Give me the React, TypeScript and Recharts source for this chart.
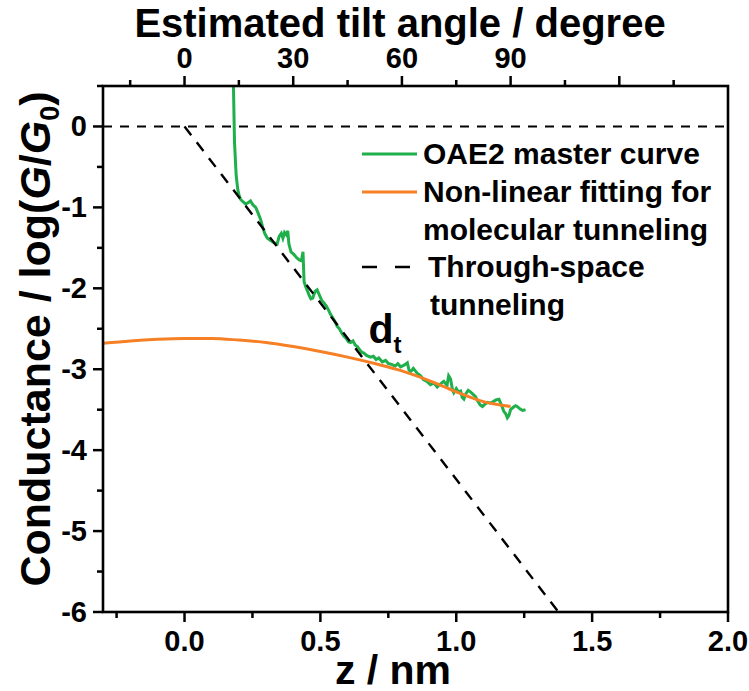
import { LineChart, Line, XAxis, YAxis, ReferenceDot, Legend } from 'recharts'

const FONT = 'Arial, "Liberation Sans", sans-serif'
const GREEN = '#1fb04c'
const ORANGE = '#f58025'

const W = 749
const H = 691
// room kept round the plot box for axes and titles
const PAD = { left: 103, top: 86, right: 21, bottom: 79 }

// OAE2 master curve, z (nm) against log(G/G0)
const masterZ = [
  0.18, 0.184, 0.19, 0.196, 0.2, 0.206, 0.215, 0.225, 0.235, 0.243, 0.252, 0.262, 0.272, 0.28, 0.288,
  0.295, 0.305, 0.317, 0.33, 0.341, 0.348, 0.356, 0.362, 0.368, 0.375, 0.38, 0.384, 0.392, 0.402, 0.412,
  0.422, 0.43, 0.436, 0.44, 0.446, 0.452, 0.458, 0.465, 0.472, 0.48, 0.488, 0.496, 0.505, 0.513, 0.522,
  0.53, 0.537, 0.545, 0.555, 0.562, 0.57, 0.578, 0.586, 0.595, 0.603, 0.611, 0.62, 0.628, 0.636, 0.645,
  0.652, 0.66, 0.67, 0.684, 0.695, 0.705, 0.715, 0.728, 0.74, 0.75, 0.762, 0.775, 0.785, 0.795, 0.808,
  0.82, 0.826, 0.832, 0.842, 0.856, 0.868, 0.88, 0.892, 0.905, 0.918, 0.93, 0.942, 0.954, 0.966, 0.972,
  0.979, 0.986, 0.991, 1.0, 1.008, 1.016, 1.022, 1.028, 1.036, 1.044, 1.052, 1.062, 1.071, 1.08, 1.088,
  1.096, 1.106, 1.116, 1.126, 1.136, 1.146, 1.157, 1.166, 1.175, 1.182, 1.188, 1.194, 1.2, 1.21, 1.218,
  1.224, 1.234, 1.244, 1.255,
]
const masterG = [
  0.5, -0.2, -0.6, -0.78, -0.84, -0.9, -0.93, -0.96, -0.94, -0.92, -0.97, -1.0, -1.08, -1.15, -1.25,
  -1.32, -1.38, -1.41, -1.44, -1.45, -1.36, -1.32, -1.38, -1.31, -1.34, -1.29, -1.45, -1.55, -1.58, -1.62,
  -1.65, -1.66, -1.55, -1.92, -1.98, -2.03, -2.08, -2.13, -2.12, -2.04, -2.02, -2.08, -2.15, -2.18, -2.22,
  -2.27, -2.32, -2.36, -2.42, -2.47, -2.5, -2.55, -2.59, -2.62, -2.66, -2.67, -2.65, -2.7, -2.72, -2.76,
  -2.79, -2.8, -2.83, -2.85, -2.84, -2.88, -2.86, -2.91, -2.89, -2.93, -2.94, -2.96, -2.93, -2.97, -2.95,
  -2.92, -3.01, -3.03, -2.99, -3.05, -3.08, -3.13, -3.15, -3.19, -3.17, -3.22, -3.18, -3.15, -3.2, -3.08,
  -3.12, -3.25, -3.29, -3.24, -3.28, -3.27, -3.35, -3.37, -3.3, -3.26, -3.28, -3.31, -3.34, -3.4, -3.44,
  -3.46, -3.43, -3.41, -3.42, -3.4, -3.38, -3.37, -3.44, -3.52, -3.55, -3.6, -3.57, -3.5, -3.47, -3.45,
  -3.46, -3.49, -3.51, -3.5,
]

// non-linear fit for molecular tunneling
const fitZ = [-0.3, -0.2, -0.1, 0, 0.1, 0.2, 0.3, 0.4, 0.5, 0.6, 0.7, 0.8, 0.9, 1.0, 1.1, 1.2]
const fitG = [-2.68, -2.65, -2.63, -2.62, -2.62, -2.64, -2.67, -2.72, -2.78, -2.85, -2.93, -3.02, -3.14, -3.28, -3.4, -3.46]

// through-space tunneling, straight from the origin to the bottom edge
const spaceZ = [0, 1.376]
const spaceG = [0, -6]

// zero-conductance guide, laid along the tilt-angle axis
const zeroTilt = [-22.5, 150]
const zeroG = [0, 0]

const zTicks = [-0.25, 0, 0.25, 0.5, 0.75, 1, 1.25, 1.5, 1.75, 2]
const tiltTicks = [-15, 0, 15, 30, 45, 60, 75, 90, 105, 120, 135]
const tiltLabelled = [0, 30, 60, 90]
const gTicks = [-6, -5.5, -5, -4.5, -4, -3.5, -3, -2.5, -2, -1.5, -1, -0.5, 0, 0.5]

const master = masterZ.map((z, i) => ({ z, g: masterG[i] }))
const fit = fitZ.map((z, i) => ({ z, g: fitG[i] }))
const space = spaceZ.map((z, i) => ({ z, g: spaceG[i] }))
const zero = zeroTilt.map((t, i) => ({ t, g: zeroG[i] }))

const isMajor = (v: number, step: number) => Math.abs(v / step - Math.round(v / step)) < 1e-6

const textStyle = { fontFamily: FONT, fontWeight: 'bold' as const, fill: '#000' }
const TICK_FONT = 29

const ZTick = ({ x, y, payload }: any) => {
  const major = isMajor(payload.value, 0.5)
  return (
    <g>
      <line x1={x} x2={x} y1={y} y2={y + (major ? 10 : 6)} stroke="#000" strokeWidth={2.5} />
      {major && (
        <text x={x} y={y + 39} textAnchor="middle" fontSize={TICK_FONT} {...textStyle}>
          {payload.value.toFixed(1)}
        </text>
      )}
    </g>
  )
}

const TiltTick = ({ x, y, payload }: any) => {
  const major = isMajor(payload.value, 30)
  return (
    <g>
      <line x1={x} x2={x} y1={y} y2={y - (major ? 10 : 6)} stroke="#000" strokeWidth={2.5} />
      {tiltLabelled.includes(payload.value) && (
        <text x={x} y={y - 18} textAnchor="middle" fontSize={TICK_FONT} {...textStyle}>
          {payload.value}
        </text>
      )}
    </g>
  )
}

const GTick = ({ x, y, payload }: any) => {
  const major = isMajor(payload.value, 1)
  return (
    <g>
      <line x1={x} x2={x - (major ? 10 : 6)} y1={y} y2={y} stroke="#000" strokeWidth={2.5} />
      {major && (
        <text x={x - 16} y={y + 10} textAnchor="end" fontSize={TICK_FONT} {...textStyle}>
          {payload.value}
        </text>
      )}
    </g>
  )
}

const DtLabel = ({ viewBox }: any) => (
  <text x={viewBox.x} y={viewBox.y} fontSize={41} {...textStyle}>
    d
    <tspan fontSize={24} dy={10}>
      t
    </tspan>
  </text>
)

const legendText = {
  fontFamily: FONT,
  fontWeight: 'bold' as const,
  fontSize: 30,
  lineHeight: '30px',
  color: '#000',
  whiteSpace: 'nowrap' as const,
}

const LegendBox = () => (
  <div style={{ position: 'relative', width: 380, height: 190, ...legendText }}>
    <svg width={60} height={140} style={{ position: 'absolute', left: 0, top: 0 }}>
      <line x1={2} x2={57} y1={20} y2={20} stroke={GREEN} strokeWidth={3} />
      <line x1={2} x2={57} y1={58} y2={58} stroke={ORANGE} strokeWidth={3} />
      <line x1={2} x2={50} y1={133} y2={133} stroke="#000" strokeWidth={2.5} strokeDasharray="15 18" />
    </svg>
    <div style={{ position: 'absolute', left: 63, top: 5 }}>OAE2 master curve</div>
    <div style={{ position: 'absolute', left: 63, top: 43 }}>Non-linear fitting for</div>
    <div style={{ position: 'absolute', left: 63, top: 81 }}>molecular tunneling</div>
    <div style={{ position: 'absolute', left: 68, top: 118 }}>Through-space</div>
    <div style={{ position: 'absolute', left: 70, top: 156 }}>tunneling</div>
  </div>
)

export default function App() {
  return (
    <div style={{ position: 'relative', width: W, height: H, background: '#fff' }}>
      <style>{'body{margin:0}'}</style>
      <LineChart width={W} height={H} margin={{ top: 0, right: PAD.right, bottom: 0, left: 0 }}>
        <XAxis
          xAxisId="z"
          dataKey="z"
          type="number"
          domain={[-0.3, 2]}
          ticks={zTicks}
          interval={0}
          tickSize={0}
          tickMargin={0}
          tick={<ZTick />}
          height={PAD.bottom}
          axisLine={false}
        />
        <XAxis
          xAxisId="tilt"
          dataKey="t"
          orientation="top"
          type="number"
          domain={[-22.5, 150]}
          ticks={tiltTicks}
          interval={0}
          tickSize={0}
          tickMargin={0}
          tick={<TiltTick />}
          height={PAD.top}
          axisLine={false}
        />
        <YAxis
          yAxisId="g"
          type="number"
          domain={[-6, 0.5]}
          ticks={gTicks}
          interval={0}
          tickSize={0}
          tickMargin={0}
          tick={<GTick />}
          width={PAD.left}
          axisLine={false}
        />
        <Line
          xAxisId="tilt"
          yAxisId="g"
          data={zero}
          dataKey="g"
          stroke="#000"
          strokeWidth={2}
          strokeDasharray="9 8"
          dot={false}
          isAnimationActive={false}
        />
        <Line
          xAxisId="z"
          yAxisId="g"
          data={master}
          dataKey="g"
          stroke={GREEN}
          strokeWidth={3}
          dot={false}
          isAnimationActive={false}
        />
        <Line
          xAxisId="z"
          yAxisId="g"
          data={fit}
          dataKey="g"
          type="monotone"
          stroke={ORANGE}
          strokeWidth={3}
          dot={false}
          isAnimationActive={false}
        />
        <Line
          xAxisId="z"
          yAxisId="g"
          data={space}
          dataKey="g"
          stroke="#000"
          strokeWidth={2.4}
          strokeDasharray="11 9"
          dot={false}
          isAnimationActive={false}
        />
        <ReferenceDot xAxisId="z" yAxisId="g" x={0.677} y={-2.67} r={0} label={<DtLabel />} />
        <Legend
          layout="vertical"
          align="center"
          verticalAlign="middle"
          wrapperStyle={{ position: 'absolute', left: 360, top: 134, width: 380 }}
          content={() => <LegendBox />}
        />
      </LineChart>
      {/* plot box and axis titles */}
      <svg width={W} height={H} style={{ position: 'absolute', left: 0, top: 0, pointerEvents: 'none' }}>
        <rect
          x={PAD.left}
          y={PAD.top}
          width={W - PAD.left - PAD.right}
          height={H - PAD.top - PAD.bottom}
          fill="none"
          stroke="#000"
          strokeWidth={2.6}
        />
        <text x={400} y={37} textAnchor="middle" fontSize={40} {...textStyle}>
          Estimated tilt angle / degree
        </text>
        <text x={393} y={684} textAnchor="middle" fontSize={41} {...textStyle}>
          z / nm
        </text>
        <text x={0} y={0} transform="translate(50 339) rotate(-90)" textAnchor="middle" fontSize={43} {...textStyle}>
          Conductance / log(<tspan fontStyle="italic">G</tspan>/<tspan fontStyle="italic">G</tspan>
          <tspan fontSize={27} dy={9}>0</tspan>
          <tspan dy={-9}>)</tspan>
        </text>
      </svg>
    </div>
  )
}
